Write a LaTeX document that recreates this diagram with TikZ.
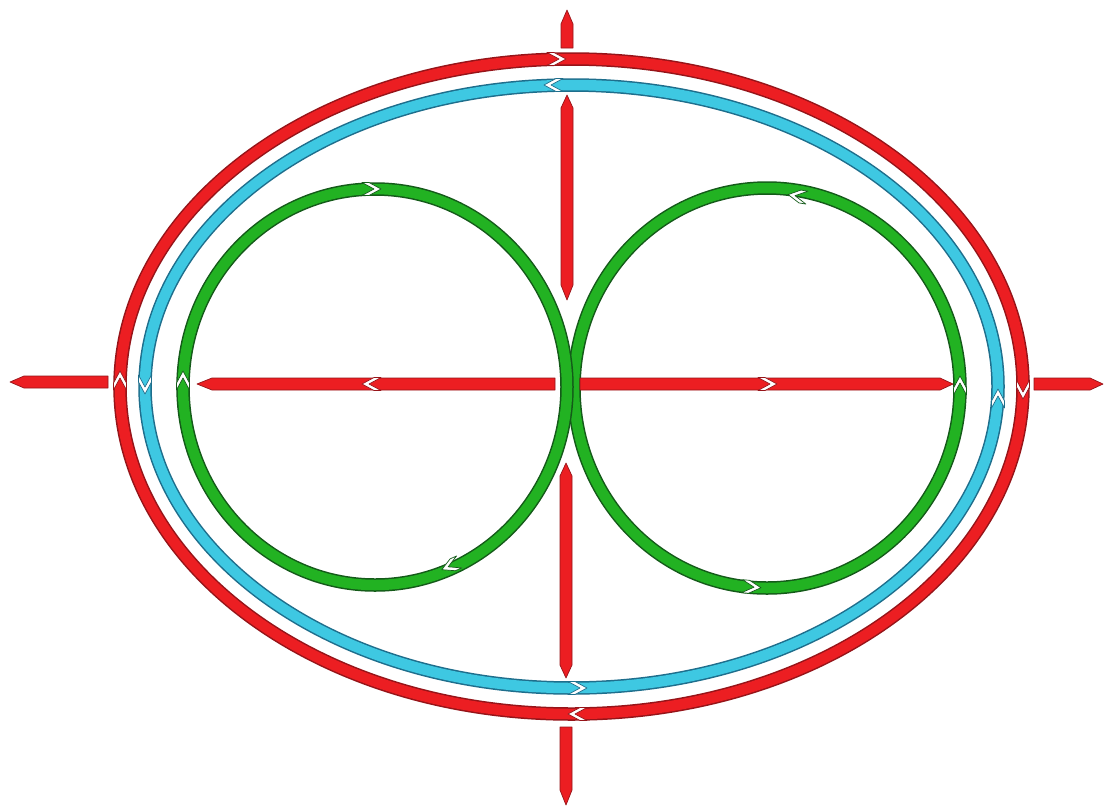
\documentclass[tikz,border=0pt]{standalone}
\definecolor{redc}{RGB}{236,30,34}
\definecolor{redd}{RGB}{150,20,25}
\definecolor{cyanc}{RGB}{62,200,226}
\definecolor{cyand}{RGB}{30,110,140}
\definecolor{greenc}{RGB}{34,178,34}
\definecolor{greend}{RGB}{20,90,25}
\newcommand\chevmark[4]{%
  \begin{scope}[shift={(#1,#2)},rotate=#3]
    \filldraw[fill=white,draw=#4,line width=0.7pt,line join=round]
      (-10,-6.5) -- (2,0) -- (-10,6.5) -- (-3,6.5) -- (9,0) -- (-3,-6.5) -- cycle;
  \end{scope}}
\tikzset{
  bandout/.style={line width=13.5pt,draw=#1},
  bandin/.style={line width=10.5pt,draw=#1},
  rod/.style={fill=redc,draw=redd,line width=0.7pt,line join=round}
}
\begin{document}
\begin{tikzpicture}[x=1pt,y=-1pt]
\useasboundingbox[fill=white] (0,0) rectangle (1107,807);
% outer red ellipse
\draw[bandout=redd] (571.5,386.5) ellipse [x radius=451.5, y radius=327.5];
\draw[bandin=redc] (571.5,386.5) ellipse [x radius=451.5, y radius=327.5];
% cyan ellipse
\draw[bandout=cyand] (571.5,386.5) ellipse [x radius=426.5, y radius=301.5];
\draw[bandin=cyanc] (571.5,386.5) ellipse [x radius=426.5, y radius=301.5];
% green circles
\draw[bandout=greend] (767,388) ellipse [x radius=193, y radius=200];
\draw[bandin=greenc] (767,388) ellipse [x radius=193, y radius=200];
\draw[bandout=greend] (375,387) ellipse [x radius=192, y radius=198];
\draw[bandin=greenc] (375,387) ellipse [x radius=192, y radius=198];
% red rods
\filldraw[rod] (10,382) -- (24,376) -- (108,376) -- (108,388) -- (24,388) -- cycle;
\filldraw[rod] (197,384) -- (212,378) -- (555,378) -- (555,390) -- (212,390) -- cycle;
\filldraw[rod] (580,378) -- (940,378) -- (953,384) -- (940,390) -- (580,390) -- cycle;
\filldraw[rod] (1034,378) -- (1090,378) -- (1103,384) -- (1090,390) -- (1034,390) -- cycle;
\filldraw[rod] (567,10) -- (573,24) -- (573,48) -- (561,48) -- (561,24) -- cycle;
\filldraw[rod] (567,95) -- (573,108) -- (573,285) -- (567,300) -- (561,285) -- (561,108) -- cycle;
\filldraw[rod] (566,463) -- (572,476) -- (572,665) -- (566,678) -- (560,665) -- (560,476) -- cycle;
\filldraw[rod] (560,727) -- (572,727) -- (572,790) -- (566,805) -- (560,790) -- cycle;
% chevrons: red ellipse
\chevmark{557}{59}{0}{redd}
\chevmark{577}{714}{180}{redd}
\chevmark{120}{380}{90}{redd}
\chevmark{1023}{390}{-90}{redd}
% cyan ellipse
\chevmark{553}{85}{180}{cyand}
\chevmark{578}{688}{0}{cyand}
\chevmark{145}{385}{-90}{cyand}
\chevmark{998}{398}{90}{cyand}
% green left circle
\chevmark{183}{380}{90}{greend}
\chevmark{372}{189}{0}{greend}
\chevmark{450}{566}{-156}{greend}
% green right circle
\chevmark{960}{385}{90}{greend}
\chevmark{797}{196}{170.7}{greend}
\chevmark{752}{587}{-4.7}{greend}
% red inner rods
\chevmark{371}{384}{180}{redd}
\chevmark{768}{384}{0}{redd}
\end{tikzpicture}
\end{document}
